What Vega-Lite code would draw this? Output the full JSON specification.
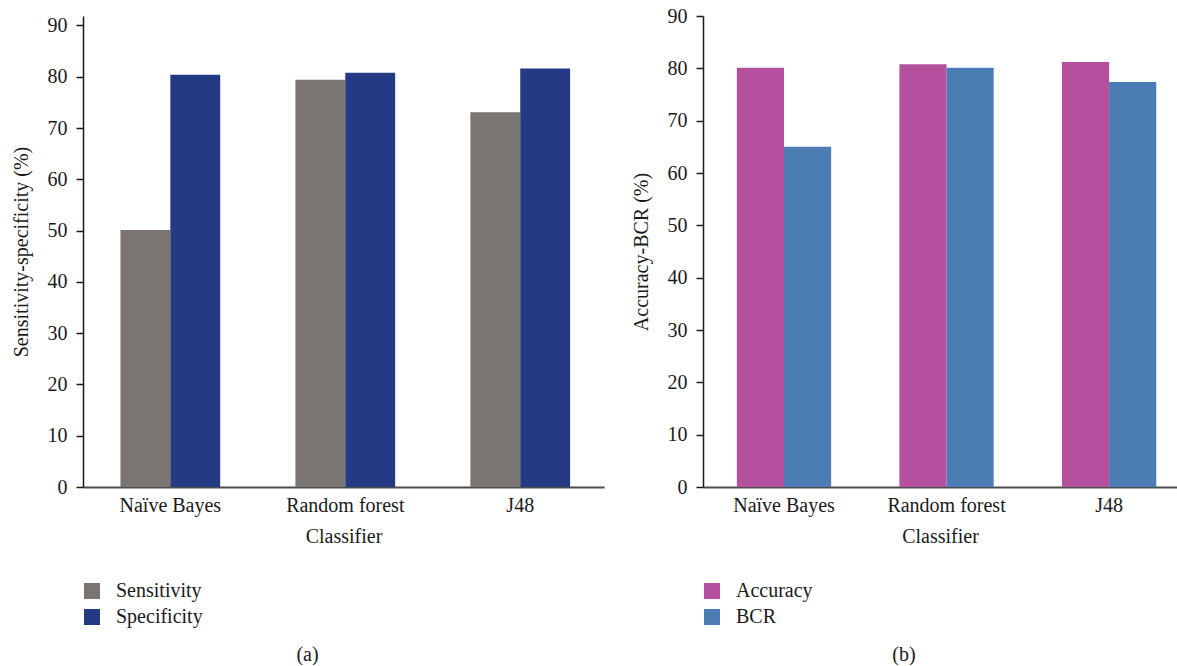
{
  "$schema": "https://vega.github.io/schema/vega-lite/v6.json",
  "padding": {"left": 11, "top": 6, "right": 0, "bottom": 0},
  "background": "white",
  "spacing": 27,
  "datasets": {
    "a": [
      {"classifier": "Naïve Bayes", "metric": "Sensitivity", "value": 50.1},
      {"classifier": "Naïve Bayes", "metric": "Specificity", "value": 80.4},
      {"classifier": "Random forest", "metric": "Sensitivity", "value": 79.4},
      {"classifier": "Random forest", "metric": "Specificity", "value": 80.8},
      {"classifier": "J48", "metric": "Sensitivity", "value": 73.1},
      {"classifier": "J48", "metric": "Specificity", "value": 81.6}
    ],
    "b": [
      {"classifier": "Naïve Bayes", "metric": "Accuracy", "value": 80.1},
      {"classifier": "Naïve Bayes", "metric": "BCR", "value": 65.0},
      {"classifier": "Random forest", "metric": "Accuracy", "value": 80.8},
      {"classifier": "Random forest", "metric": "BCR", "value": 80.1},
      {"classifier": "J48", "metric": "Accuracy", "value": 81.2},
      {"classifier": "J48", "metric": "BCR", "value": 77.4}
    ]
  },
  "config": {
    "font": "Liberation Serif",
    "view": {"stroke": null},
    "scale": {"offsetBandPaddingInner": 0, "offsetBandPaddingOuter": 0},
    "axis": {
      "labelFont": "Liberation Serif",
      "titleFont": "Liberation Serif",
      "labelFontSize": 20,
      "titleFontSize": 20,
      "titleFontWeight": "normal",
      "labelColor": "#1a1a1a",
      "titleColor": "#1a1a1a",
      "grid": false
    },
    "axisX": {
      "ticks": false,
      "domainColor": "#4d4d4d",
      "domainWidth": 2,
      "labelAngle": 0,
      "labelPadding": 8,
      "titlePadding": 11
    },
    "axisY": {
      "domainColor": "#1a1a1a",
      "domainWidth": 1.5,
      "tickColor": "#1a1a1a",
      "tickWidth": 1.5,
      "tickSize": 7,
      "labelPadding": 9,
      "titlePadding": 16
    },
    "legend": {
      "labelFont": "Liberation Serif",
      "labelFontSize": 20,
      "labelColor": "#1a1a1a",
      "symbolType": "square",
      "symbolSize": 256,
      "symbolStrokeWidth": 0,
      "symbolOpacity": 1,
      "rowPadding": 6,
      "labelOffset": 14,
      "padding": 0,
      "title": null
    },
    "title": {
      "font": "Liberation Serif",
      "fontSize": 20,
      "fontWeight": "normal",
      "color": "#1a1a1a",
      "orient": "bottom",
      "anchor": "middle",
      "frame": "bounds",
      "offset": 18
    }
  },
  "hconcat": [
    {
      "width": 521,
      "height": 471,
      "title": "(a)",
      "data": {"name": "a"},
      "mark": {"type": "bar"},
      "encoding": {
        "x": {
          "field": "classifier",
          "type": "nominal",
          "sort": ["Naïve Bayes", "Random forest", "J48"],
          "title": "Classifier",
          "scale": {"paddingInner": 0.43, "paddingOuter": 0.204, "align": 0.525}
        },
        "xOffset": {"field": "metric", "type": "nominal", "sort": ["Sensitivity", "Specificity"]},
        "y": {
          "field": "value",
          "type": "quantitative",
          "title": "Sensitivity-specificity (%)",
          "scale": {"domain": [0, 91.85], "nice": false},
          "axis": {"values": [0, 10, 20, 30, 40, 50, 60, 70, 80, 90]}
        },
        "color": {
          "field": "metric",
          "type": "nominal",
          "sort": ["Sensitivity", "Specificity"],
          "scale": {"domain": ["Sensitivity", "Specificity"], "range": ["#7a7571", "#253a85"]},
          "legend": {"orient": "none", "legendX": -1, "legendY": 565}
        }
      }
    },
    {
      "width": 474,
      "height": 471,
      "title": "(b)",
      "data": {"name": "b"},
      "mark": {"type": "bar"},
      "encoding": {
        "x": {
          "field": "classifier",
          "type": "nominal",
          "sort": ["Naïve Bayes", "Random forest", "J48"],
          "title": "Classifier",
          "scale": {"paddingInner": 0.42, "paddingOuter": 0.168, "align": 0.62}
        },
        "xOffset": {"field": "metric", "type": "nominal", "sort": ["Accuracy", "BCR"]},
        "y": {
          "field": "value",
          "type": "quantitative",
          "title": "Accuracy-BCR (%)",
          "scale": {"domain": [0, 90], "nice": false},
          "axis": {"values": [0, 10, 20, 30, 40, 50, 60, 70, 80, 90]}
        },
        "color": {
          "field": "metric",
          "type": "nominal",
          "sort": ["Accuracy", "BCR"],
          "scale": {"domain": ["Accuracy", "BCR"], "range": ["#b4509e", "#4c7cb4"]},
          "legend": {"orient": "none", "legendX": -1, "legendY": 565}
        }
      }
    }
  ],
  "resolve": {"scale": {"color": "independent", "y": "independent", "x": "independent", "xOffset": "independent"}, "legend": {"color": "independent"}}
}
